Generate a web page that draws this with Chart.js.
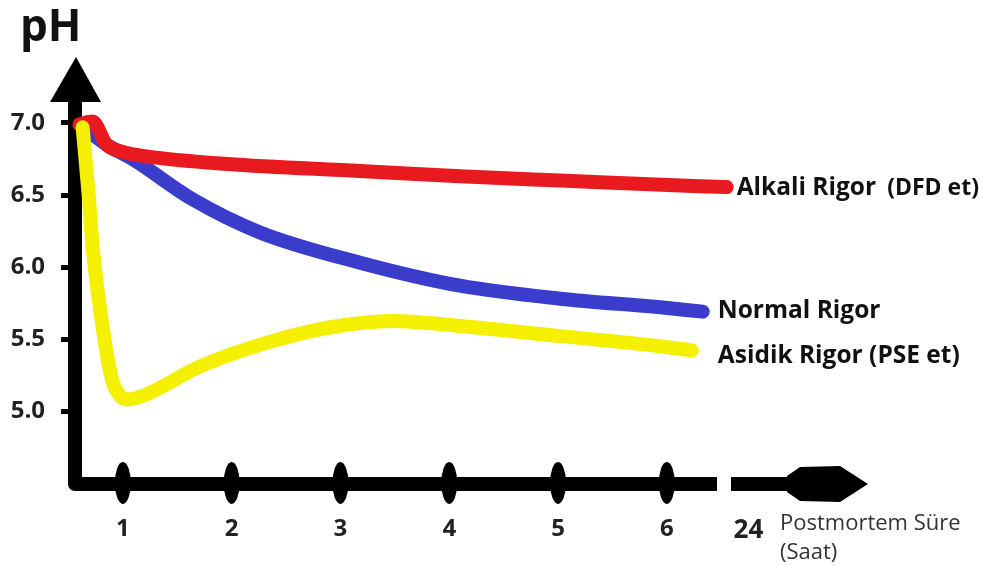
<!DOCTYPE html>
<html>
<head>
<meta charset="utf-8">
<script src="https://cdn.jsdelivr.net/npm/chart.js@4"></script>
<style>
  body { margin: 0; background: #fff; }
  #wrap { width: 993px; height: 566px; }
</style>
</head>
<body>
<div id="wrap"><canvas id="phChart" width="993" height="566"></canvas></div>
<script>
// degerler (saat, pH)
const alkaliTime = [0.60, 0.72, 0.85, 1.00, 1.20, 1.96, 3.18, 4.10, 5.02, 6.30, 6.55];
const alkaliPH   = [6.99, 7.01, 6.85, 6.80, 6.77, 6.715, 6.667, 6.63, 6.60, 6.56, 6.555];

const normalTime = [0.62, 0.85, 1.09, 1.64, 2.26, 3.18, 4.10, 5.02, 5.94, 6.33];
const normalPH   = [6.98, 6.85, 6.75, 6.47, 6.24, 6.03, 5.87, 5.78, 5.72, 5.69];

const asidikTime = [0.63, 0.68, 0.725, 0.82, 0.90, 0.98, 1.05, 1.20, 1.71, 2.35, 2.90, 3.48, 4.10, 5.02, 5.94, 6.23];
const asidikPH   = [6.97, 6.55, 6.12, 5.55, 5.22, 5.10, 5.08, 5.11, 5.31, 5.48, 5.58, 5.625, 5.59, 5.52, 5.45, 5.42];

const yTickValues = [5.0, 5.5, 6.0, 6.5, 7.0];
const xTickValues = [1, 2, 3, 4, 5, 6, 6.75];
const xTickLabels = ['1', '2', '3', '4', '5', '6', '24'];

const seriesNames = ['Alkali Rigor', 'Normal Rigor', 'Asidik Rigor (PSE et)'];

function toPoints(xs, ys) {
  return xs.map((x, i) => ({ x: x, y: ys[i] }));
}

const FONT = '"Open Sans", "DejaVu Sans", sans-serif';

// eksenler, oklar ve x uzerindeki oval isaretler
const axesPlugin = {
  id: 'axesPlugin',
  beforeDatasetsDraw(chart) {
    const ctx = chart.ctx;
    const xs = chart.scales.x;
    const area = chart.chartArea;
    const ax = area.left;
    const ay = area.bottom + 1;
    ctx.save();
    ctx.fillStyle = '#000';
    ctx.strokeStyle = '#000';
    ctx.lineWidth = 14;
    ctx.lineJoin = 'round';
    ctx.lineCap = 'butt';
    ctx.beginPath();
    ctx.moveTo(ax, 96);
    ctx.lineTo(ax, ay);
    ctx.lineTo(717, ay);
    ctx.stroke();
    ctx.beginPath();
    ctx.moveTo(731, ay);
    ctx.lineTo(792, ay);
    ctx.stroke();

    // y oku
    ctx.beginPath();
    ctx.moveTo(ax + 1, area.top + 6);
    ctx.lineTo(ax + 26, 102);
    ctx.lineTo(ax - 25, 102);
    ctx.closePath();
    ctx.fill();

    // x oku
    const tip = area.right + 1;
    ctx.beginPath();
    ctx.moveTo(787, ay - 8);
    ctx.lineTo(800, ay - 17);
    ctx.lineTo(840, ay - 18);
    ctx.lineTo(tip, ay);
    ctx.lineTo(840, ay + 18);
    ctx.lineTo(800, ay + 17);
    ctx.lineTo(787, ay + 8);
    ctx.closePath();
    ctx.fill();

    // oval tikler
    xTickValues.forEach((v, i) => {
      if (xTickLabels[i] === '24') return;
      ctx.beginPath();
      ctx.ellipse(xs.getPixelForValue(v), ay - 1, 8, 21, 0, 0, Math.PI * 2);
      ctx.fill();
    });
    ctx.restore();
  },
  afterDatasetsDraw(chart) {
    const ctx = chart.ctx;
    ctx.save();
    ctx.fillStyle = '#111';
    ctx.textAlign = 'left';

    // pH basligi
    ctx.font = 'bold 44px ' + FONT;
    ctx.textBaseline = 'alphabetic';
    ctx.fillText('pH', 20, 41);
    ctx.textBaseline = 'middle';

    // seri adlari, egrilerin sonunda
    const gaps = [10, 15, 26];
    const dys = [1, -1, 5];
    chart.data.datasets.forEach((ds, di) => {
      const meta = chart.getDatasetMeta(di);
      const last = meta.data[meta.data.length - 1];
      const idx = ds.seriesIndex;
      const x = last.x + gaps[idx];
      const y = last.y + dys[idx];
      ctx.font = 'bold 24.5px ' + FONT;
      ctx.fillText(seriesNames[idx], x, y);
      if (idx === 0) {
        const w = ctx.measureText(seriesNames[idx]).width;
        ctx.font = 'bold 23px ' + FONT;
        ctx.fillText('(DFD et)', x + w + 11, y);
      }
    });

    // x ekseni basligi
    ctx.fillStyle = '#333';
    ctx.font = '22px ' + FONT;
    ctx.fillText('Postmortem Süre', 780, 524);
    ctx.fillText('(Saat)', 780, 553);
    ctx.restore();
  }
};

const lineStyle = {
  borderWidth: 14,
  pointRadius: 0,
  borderCapStyle: 'round',
  borderJoinStyle: 'round',
  cubicInterpolationMode: 'monotone',
  fill: false,
  clip: false
};

new Chart(document.getElementById('phChart'), {
  type: 'line',
  data: {
    datasets: [
      Object.assign({ label: seriesNames[2], seriesIndex: 2, data: toPoints(asidikTime, asidikPH), borderColor: '#f5ef00', order: 0 }, lineStyle),
      Object.assign({ label: seriesNames[0], seriesIndex: 0, data: toPoints(alkaliTime, alkaliPH), borderColor: '#e8191f', order: 1 }, lineStyle),
      Object.assign({ label: seriesNames[1], seriesIndex: 1, data: toPoints(normalTime, normalPH), borderColor: '#3a3dcc', order: 2 }, lineStyle)
    ]
  },
  options: {
    responsive: false,
    animation: false,
    layout: { padding: { left: 0, right: 126, top: 51, bottom: 0 } },
    plugins: { legend: { display: false }, tooltip: { enabled: false } },
    scales: {
      x: {
        type: 'linear',
        min: 0.56,
        max: 7.84,
        afterFit: s => { s.height = 83; },
        afterBuildTicks: s => { s.ticks = xTickValues.map(v => ({ value: v })); },
        grid: { display: false, drawTicks: false },
        border: { display: false },
        ticks: {
          autoSkip: false,
          maxRotation: 0,
          padding: 32,
          color: '#222',
          font: c => ({ family: FONT, weight: 'bold', size: (c.tick && c.tick.value === 6.75) ? 26 : 24 }),
          callback: (v, i) => xTickLabels[i]
        }
      },
      y: {
        type: 'linear',
        min: 4.5,
        max: 7.5,
        afterFit: s => { s.width = 75; },
        afterBuildTicks: s => { s.ticks = yTickValues.map(v => ({ value: v })); },
        grid: { display: true, drawOnChartArea: false, drawTicks: true, tickLength: 14, color: '#000', lineWidth: 5 },
        border: { display: false },
        ticks: {
          padding: 16,
          color: '#222',
          font: { family: FONT, weight: 'bold', size: 24 },
          callback: v => v.toFixed(1)
        }
      }
    }
  },
  plugins: [axesPlugin]
});
</script>
</body>
</html>
